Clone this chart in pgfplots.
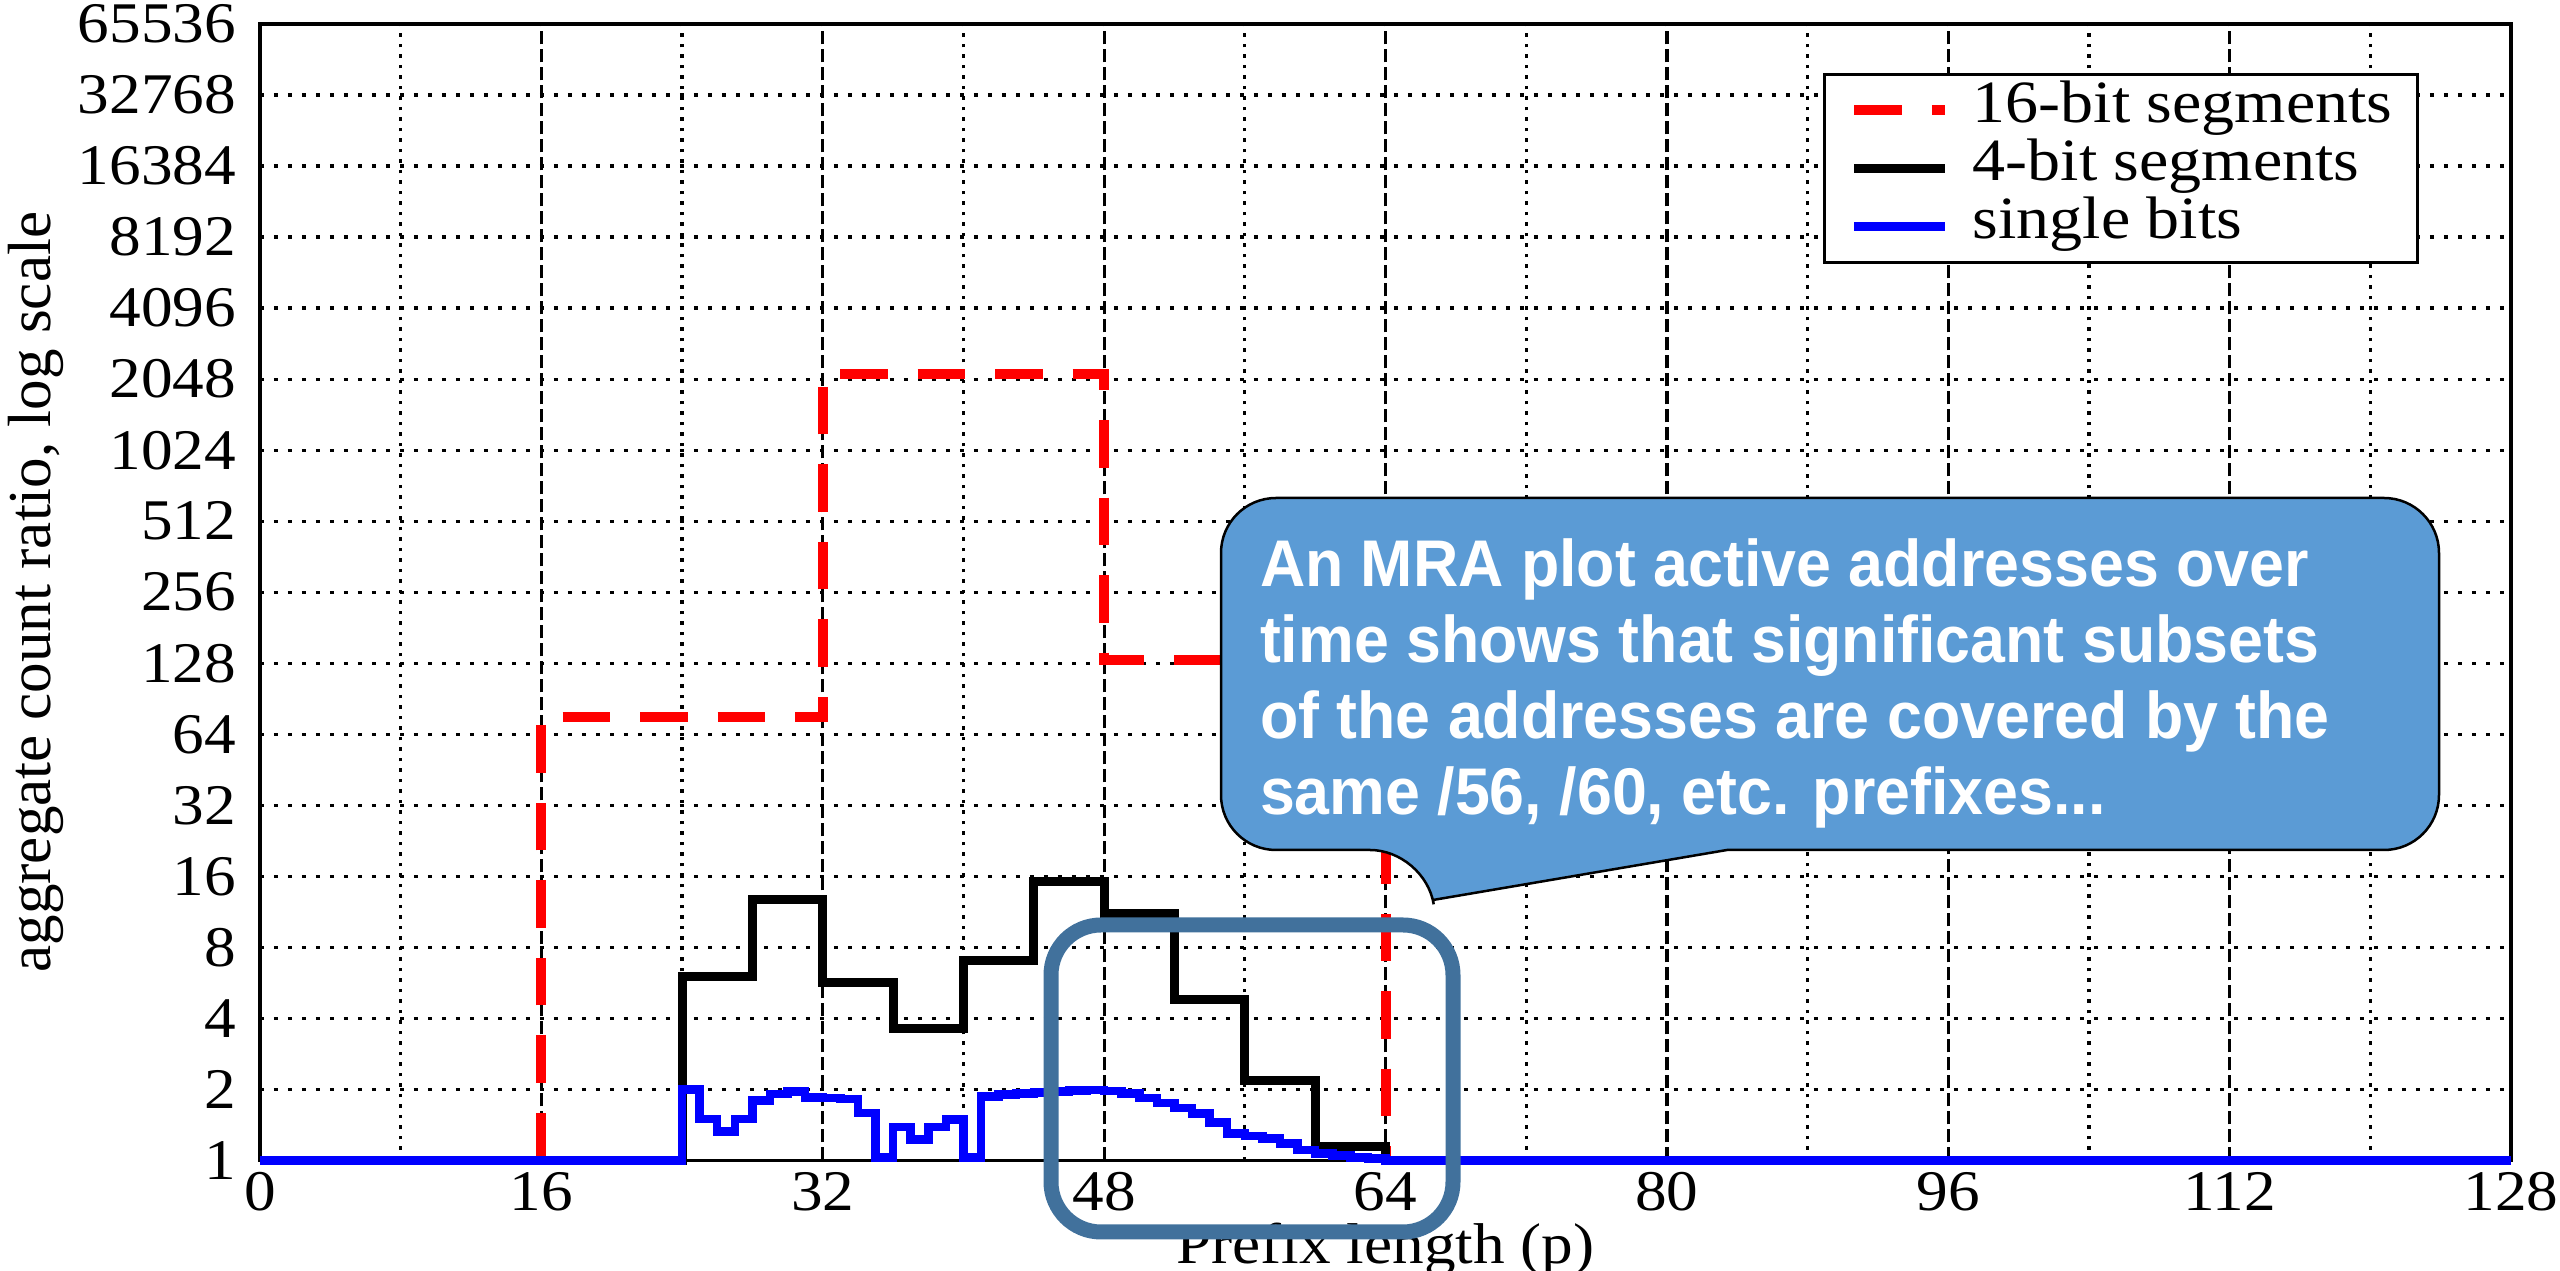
\documentclass[border=0pt]{standalone}
\usepackage{fontspec}
\setmainfont{Liberation Serif}[FakeStretch=1.1]
\newfontfamily\ylabfont{Liberation Serif}
\newfontfamily\cfont{Liberation Sans}[FakeStretch=0.95]
\usepackage{pgfplots}
\usepackage{pgfplotstable}
\pgfplotsset{compat=1.18}
\usetikzlibrary{calc}
\definecolor{callfill}{RGB}{91,155,213}
\definecolor{boxblue}{RGB}{65,113,156}

\pgfplotstableread{
x y
16 1
16 76
32 2150
48 132
64 1
}\redtab

\pgfplotstableread{
x y
0 1
24 6.0
28 12.8
32 5.67
36 3.61
40 7.05
44 15.2
48 11.1
52 4.82
56 2.18
60 1.15
64 1
128 1
}\blacktab

\pgfplotstableread{
x y
0 1
24 2.0
25 1.50
26 1.33
27 1.50
28 1.80
29 1.91
30 1.96
31 1.85
32 1.84
33 1.82
34 1.59
35 1.03
36 1.39
37 1.23
38 1.39
39 1.49
40 1.03
41 1.87
42 1.90
43 1.92
44 1.94
45 1.96
46 1.98
47 1.99
48 1.97
49 1.92
50 1.84
51 1.75
52 1.67
53 1.58
54 1.45
55 1.30
56 1.27
57 1.24
58 1.18
59 1.11
60 1.07
61 1.05
62 1.03
63 1.02
64 1
128 1
}\bluetab

\begin{document}
\begin{tikzpicture}
\begin{axis}[
  scale only axis, width=450.2pt, height=227.3pt,
  xmin=0, xmax=128,
  ymode=log, log basis y=2, ymin=1, ymax=65536,
  xtick={0,16,32,48,64,80,96,112,128},
  xticklabels={0,16,32,48,64,80,96,112,128},
  ytick={1,2,4,8,16,32,64,128,256,512,1024,2048,4096,8192,16384,32768,65536},
  yticklabels={1,2,4,8,16,32,64,128,256,512,1024,2048,4096,8192,16384,32768,65536},
  extra x ticks={8,24,40,56,72,88,104,120},
  extra x tick labels={},
  extra x tick style={xmajorgrids=true, x grid style={dash pattern=on 0.7pt off 1.4pt, line width=0.65pt}},
  xmajorgrids, ymajorgrids,
  x grid style={black, line width=0.65pt, dash pattern=on 2.6pt off 1pt},
  y grid style={black, line width=0.65pt, dash pattern=on 0.8pt off 2pt},
  tick style={draw=none},
  axis line style={line width=0.7pt},
  /pgf/number format/assume math mode=true,
  tick label style={font=\fontsize{11.5}{12}\selectfont},
  yticklabel style={anchor=east, inner sep=0pt, xshift=-4.6pt},
  xticklabel style={anchor=base, inner sep=0pt, yshift=-10pt},
  xlabel={Prefix length (p)},
  ylabel={aggregate count ratio, log scale},
  xlabel style={at={(axis description cs:0.5,-0.0906)}, anchor=base, inner sep=0pt, font=\fontsize{11.5}{12}\selectfont},
  ylabel style={at={(axis description cs:-0.0997,0.5)}, anchor=center, inner sep=0pt, font=\ylabfont\fontsize{12.2}{13}\selectfont},
  clip=false,
  legend cell align=left,
  legend image code/.code={\draw[#1] (0pt,0pt) -- (18.2pt,0pt);},
  legend style={at={(0.9593,0.9573)}, anchor=north east, draw=black, line width=0.7pt, fill=white,
    inner xsep=5pt, inner ysep=2.2pt, font=\fontsize{12}{13}\selectfont, row sep=1.6pt,
    nodes={inner sep=0pt, text height=7.5pt, text depth=2.5pt},
    /tikz/every odd column/.append style={column sep=4.5pt}},
]
\addplot[const plot, red, line width=2pt, dash pattern=on 9.5pt off 6pt] table {\redtab};
\addplot[const plot, black, line width=1.8pt] table {\blacktab};
\addplot[const plot, blue, line width=1.7pt] table {\bluetab};
\legend{16-bit segments, 4-bit segments, single bits}
\end{axis}

\begin{scope}[shift={($(current axis.north west)+(-52pt,4.8pt)$)}, x=1pt, y=-1pt]
  \filldraw[fill=callfill, draw=black, line width=0.5pt, rounded corners=11pt]
    (345.4,170) -- (487.8,170) -- (487.8,99.6) -- (244.2,99.6) -- (244.2,170) -- (285,170)
    [sharp corners] -- (286.6,180) -- cycle;
  \begin{scope}[every node/.style={anchor=base west, inner sep=0pt, text=white, font=\cfont\bfseries\fontsize{13.2}{15}\selectfont}]
    \node at (251.8,117.3) {An MRA plot active addresses over};
    \node at (251.8,132.5) {time shows that significant subsets};
    \node at (251.8,147.7) {of the addresses are covered by the};
    \node at (251.8,162.9) {same /56, /60, etc. prefixes...};
  \end{scope}
  \draw[boxblue, line width=3pt, rounded corners=10pt] (210.2,185) rectangle (290.6,246.4);
\end{scope}

\pgfresetboundingbox
\path[use as bounding box] ($(current axis.north west)+(-52pt,4.8pt)$) rectangle ($(current axis.south east)+(9.8pt,-22.06pt)$);
\end{tikzpicture}
\end{document}
